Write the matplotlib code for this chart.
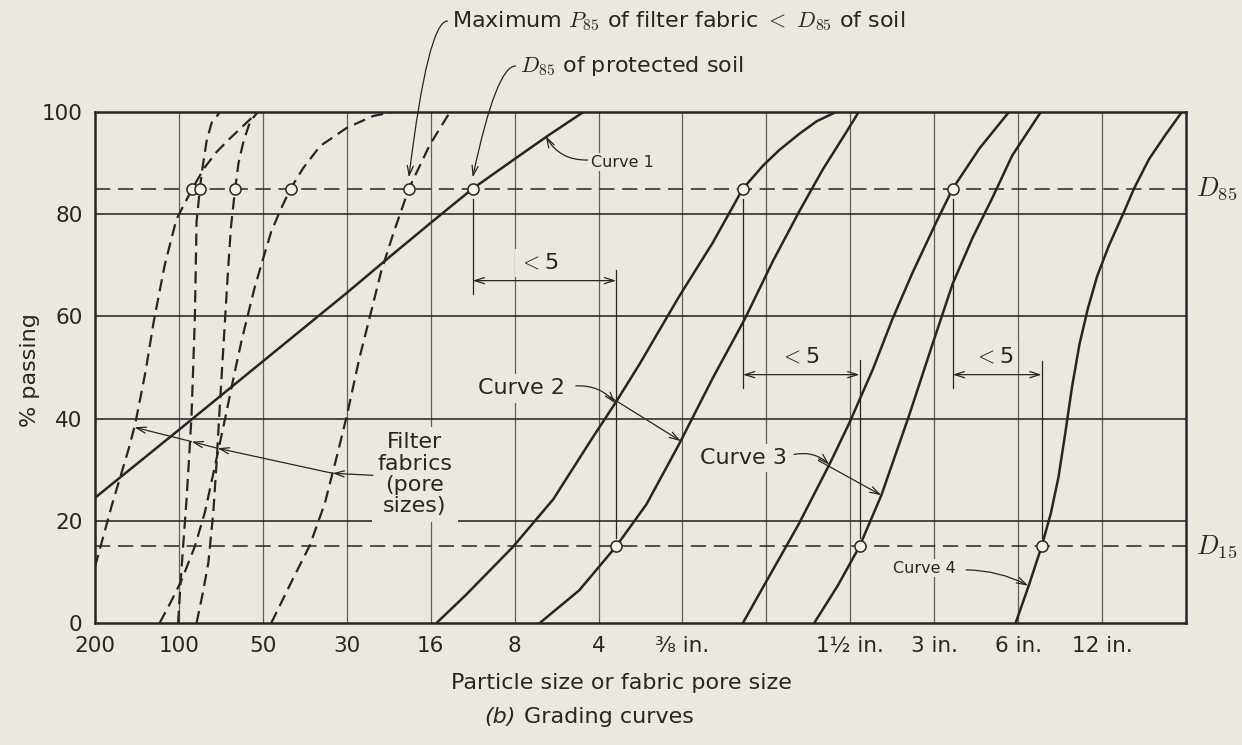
import matplotlib.pyplot as plt

plt.rcParams['font.family'] = ['DejaVu Sans']
plt.rcParams['mathtext.fontset'] = 'cm'

paper = '#ece8df'
ink = '#262626'

# equally spaced sieve / size steps, 0 = No. 200 at the left edge
size_ticks = list(range(14))
size_labels = ['200', '100', '50', '30', '16', '8', '4', '⅜ in.', '',
               '1½ in.', '3 in.', '6 in.', '12 in.', '']
pct_ticks = [0, 20, 40, 60, 80, 100]

# filter fabric pore-size curves (dashed)
fabric1_x = [0, 0.2, 0.4, 0.48, 0.6, 0.7, 0.83, 0.97, 1.16, 1.3, 1.45, 1.6, 1.78, 1.94]
fabric1_y = [11, 23, 34, 39, 49, 59, 70, 79, 85, 89, 92.2, 94.7, 97.5, 100]
fabric2_x = [0.99, 1.02, 1.05, 1.09, 1.12, 1.15, 1.17, 1.19, 1.2, 1.21, 1.25, 1.28, 1.33, 1.39, 1.49]
fabric2_y = [0, 8, 15, 24, 32, 40.5, 50, 60, 69, 78.5, 85, 89, 94.3, 97.9, 100]
fabric3_x = [1.21, 1.28, 1.35, 1.41, 1.45, 1.48, 1.515, 1.55, 1.585, 1.62, 1.67, 1.71, 1.77, 1.85, 1.94]
fabric3_y = [0, 5.5, 11.7, 21.7, 31.7, 40.5, 50, 59.5, 69, 77.5, 85, 90, 94.3, 98.2, 100]
fabric4_x = [0.77, 0.9, 1.03, 1.19, 1.31, 1.45, 1.55, 1.67, 1.75, 1.9, 1.98, 2.1, 2.22, 2.33,
             2.48, 2.68, 3.0, 3.31, 3.55]
fabric4_y = [0, 4, 8.3, 15, 21.7, 32.3, 40, 49.5, 55.5, 65.5, 70, 76.6, 81.2, 85,
             89, 93.3, 96.9, 99.2, 100]
fabric5_x = [2.10, 2.36, 2.56, 2.74, 2.88, 3.0, 3.15, 3.27, 3.41, 3.55, 3.74, 3.99, 4.23]
fabric5_y = [0, 8.7, 15.2, 23.5, 32.5, 40.5, 51.8, 59.6, 68.8, 76, 85, 93.6, 100]

# soil grading curves (solid)
curve1_x = [0, 1, 2, 3, 3.5, 4, 4.5, 5, 5.4, 5.82]
curve1_y = [24.5, 37.8, 51.2, 64.6, 71.5, 78.3, 85, 90.8, 95.4, 100]
curve2a_x = [4.07, 4.42, 4.98, 5.46, 5.93, 6.21, 6.49, 6.96, 7.36, 7.72, 7.96, 8.15, 8.39, 8.6, 8.83]
curve2a_y = [0, 5.5, 14.9, 24.2, 36.3, 43.3, 50.7, 63.9, 74.4, 85, 89.5, 92.5, 95.7, 98.2, 100]
curve2b_x = [5.30, 5.77, 6.21, 6.57, 6.96, 7.36, 7.74, 8.08, 8.39, 8.67, 8.95, 9.1]
curve2b_y = [0, 6.4, 15, 23.2, 35, 47.9, 59.4, 70.9, 80.5, 88.7, 96, 100]
curve3a_x = [7.72, 7.96, 8.15, 8.39, 8.75, 8.99, 9.27, 9.5, 9.74, 10.02, 10.22, 10.54, 10.89]
curve3a_y = [0, 7, 12.5, 19.5, 31, 39.2, 49.7, 59.4, 68.5, 78.3, 85, 92.9, 100]
curve3b_x = [8.57, 8.85, 9.11, 9.37, 9.7, 9.98, 10.22, 10.46, 10.69, 10.93, 11.27]
curve3b_y = [0, 7.3, 15, 25, 40.6, 54.6, 66.4, 75.5, 83.1, 91.5, 100]
curve4_x = [10.97, 11.13, 11.28, 11.39, 11.48, 11.56, 11.64, 11.73, 11.83, 11.94, 12.08,
            12.26, 12.38, 12.56, 12.75, 12.95]
curve4_y = [0, 7.5, 15, 21.5, 28.5, 37, 46, 54.5, 61.5, 67.8, 73.8, 80.4, 85, 90.8, 95.4, 100]

# marked points on the D85 and D15 lines
d85_x = [1.16, 1.25, 1.67, 2.33, 3.74, 4.5, 7.72, 10.22]
d15_x = [6.21, 9.11, 11.28]

fabrics = [(fabric1_x, fabric1_y), (fabric2_x, fabric2_y), (fabric3_x, fabric3_y),
           (fabric4_x, fabric4_y), (fabric5_x, fabric5_y)]
soils = [(curve1_x, curve1_y), (curve2a_x, curve2a_y), (curve2b_x, curve2b_y),
         (curve3a_x, curve3a_y), (curve3b_x, curve3b_y), (curve4_x, curve4_y)]

fig = plt.figure(figsize=(12.42, 7.45), dpi=100, facecolor=paper)
ax = fig.add_axes([95 / 1242, 122 / 745, 1091 / 1242, 511 / 745], facecolor=paper)
ax.set_xlim(0, 13)
ax.set_ylim(0, 100)

# grid
for xv in size_ticks[1:13]:
    ax.axvline(xv, color='#606060', lw=0.9, zorder=1)
for yv in [20, 40, 60, 80]:
    ax.axhline(yv, color=ink, lw=1.15, zorder=1)
for yv in [85, 15]:
    ax.axhline(yv, color=ink, lw=1.1, ls=(0, (10, 5)), zorder=1)

for xs, ys in fabrics:
    ax.plot(xs, ys, color=ink, lw=1.6, ls=(0, (5.5, 3)), zorder=3)
for xs, ys in soils:
    ax.plot(xs, ys, color=ink, lw=1.8, zorder=3, solid_capstyle='butt')

ax.plot(d85_x, [85] * len(d85_x), 'o', ms=8, mfc='#f5f2eb', mec=ink, mew=1.1, zorder=4)
ax.plot(d15_x, [15] * len(d15_x), 'o', ms=8, mfc='#f5f2eb', mec=ink, mew=1.1, zorder=4)

for s in ax.spines.values():
    s.set_linewidth(1.8)
    s.set_color(ink)
ax.set_xticks(size_ticks)
ax.set_xticklabels(size_labels)
ax.set_yticks(pct_ticks)
ax.tick_params(length=0, labelsize=15.5, colors=ink, pad=9)

hide = dict(fc=paper, ec='none', pad=3)
arr = dict(arrowstyle='->,head_length=0.7,head_width=0.22', color=ink, lw=0.9,
           shrinkA=0, shrinkB=0)

# "<5" brackets between D85 of one curve and D15 of the next
brackets = [(4.5, 83, 64.3, 6.21, 69, 16.6, 67, 5.29, 70.5),
            (7.72, 83, 46, 9.11, 51.4, 16.6, 48.6, 8.4, 52.2),
            (10.22, 83, 46, 11.28, 51.2, 16.6, 48.6, 10.71, 52.2)]
for xl, lt, lb, xr, rt, rb, ya, tx, ty in brackets:
    ax.plot([xl, xl], [lt, lb], color=ink, lw=0.9, zorder=2)
    ax.plot([xr, xr], [rt, rb], color=ink, lw=0.9, zorder=2)
    ax.annotate('', xy=(xl, ya), xytext=(xr, ya),
                arrowprops=dict(arr, arrowstyle='<->,head_length=0.7,head_width=0.22'))
    ax.text(tx, ty, r'$<$5', fontsize=16, ha='center', va='center', color=ink,
            bbox=hide, zorder=2)

# curve labels
ax.text(5.91, 90.2, 'Curve 1', fontsize=11.5, ha='left', va='center', color=ink,
        bbox=dict(hide, pad=1), zorder=2)
ax.annotate('', xy=(5.37, 95.3), xytext=(5.87, 90.6),
            arrowprops=dict(arr, connectionstyle='arc3,rad=-0.3'))

ax.text(5.08, 45.9, 'Curve 2', fontsize=16, ha='center', va='center', color=ink,
        bbox=hide, zorder=2)
ax.annotate('', xy=(6.2, 43.0), xytext=(5.73, 46.4),
            arrowprops=dict(arr, connectionstyle='arc3,rad=-0.25'))
ax.annotate('', xy=(6.98, 35.6), xytext=(6.13, 44.3), arrowprops=arr)

ax.text(7.73, 32.3, 'Curve 3', fontsize=16, ha='center', va='center', color=ink,
        bbox=hide, zorder=2)
ax.annotate('', xy=(8.75, 31.0), xytext=(8.33, 33.0),
            arrowprops=dict(arr, connectionstyle='arc3,rad=-0.25'))
ax.annotate('', xy=(9.37, 25.0), xytext=(8.62, 31.8), arrowprops=arr)

ax.text(9.88, 10.7, 'Curve 4', fontsize=11.5, ha='center', va='center', color=ink,
        bbox=dict(hide, pad=1), zorder=2)
ax.annotate('', xy=(11.12, 7.3), xytext=(10.38, 10.4),
            arrowprops=dict(arr, connectionstyle='arc3,rad=-0.12'))

ax.text(3.81, 29.1, 'Filter\nfabrics\n(pore\nsizes)', fontsize=16, ha='center',
        va='center', linespacing=1.08, color=ink, bbox=dict(hide, pad=4), zorder=2)
leader = [(3.31, 28.9), (2.83, 29.3), (1.46, 34.2), (1.15, 35.5), (0.47, 38.3)]
for start, tip in zip(leader[:-1], leader[1:]):
    ax.annotate('', xy=tip, xytext=start, arrowprops=arr)

# top notes with leaders down to the D85 line
ax.text(4.25, 117.8, r'Maximum $P_{\mathsf{85}}$ of filter fabric $<$ $D_{\mathsf{85}}$ of soil',
        fontsize=16, ha='left', va='center', color=ink)
ax.annotate('', xy=(3.74, 87.2), xytext=(4.2, 117.8), annotation_clip=False,
            arrowprops=dict(arr, connectionstyle='angle3,angleA=0,angleB=83'))
ax.text(5.06, 109.0, r'$D_{\mathsf{85}}$ of protected soil', fontsize=16, ha='left',
        va='center', color=ink)
ax.annotate('', xy=(4.5, 87.2), xytext=(5.01, 109.0), annotation_clip=False,
            arrowprops=dict(arr, connectionstyle='angle3,angleA=0,angleB=78'))

ax.text(13.12, 85, r'$D_{85}$', fontsize=19, ha='left', va='center', color=ink)
ax.text(13.12, 15, r'$D_{15}$', fontsize=19, ha='left', va='center', color=ink)

fig.text(30 / 1242, 1 - 370 / 745, '% passing', rotation=90, fontsize=16,
         ha='center', va='center', color=ink)
fig.text(621 / 1242, 1 - 683 / 745, 'Particle size or fabric pore size', fontsize=16,
         ha='center', va='center', color=ink)
fig.text(516 / 1242, 1 - 717 / 745, '(b)', fontsize=16, style='italic',
         ha='right', va='center', color=ink)
fig.text(524 / 1242, 1 - 717 / 745, 'Grading curves', fontsize=16,
         ha='left', va='center', color=ink)

fig.savefig('out.png', dpi=100, facecolor=paper)
